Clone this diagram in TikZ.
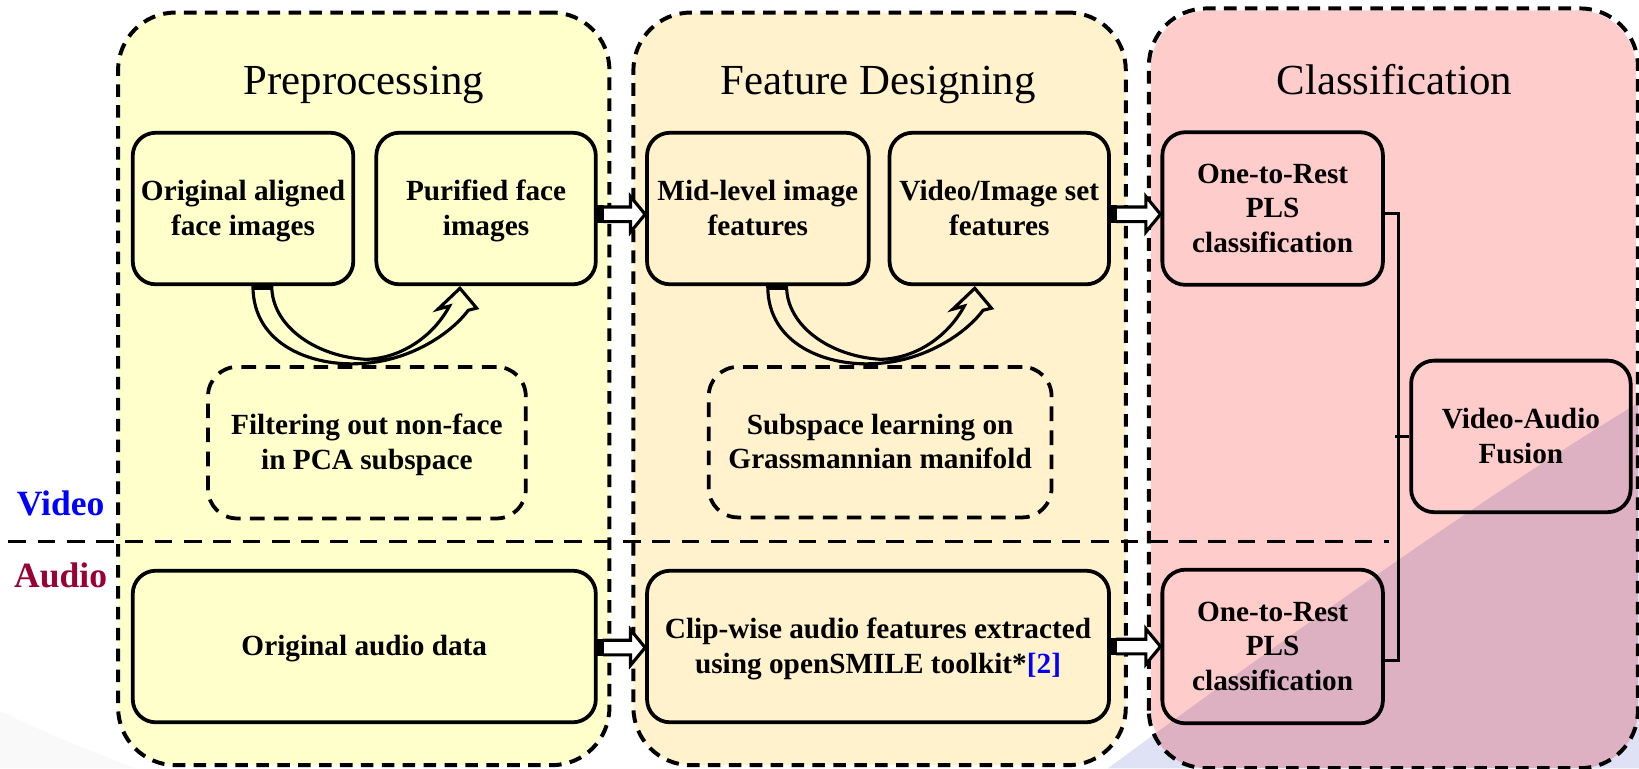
\documentclass[tikz,border=0pt]{standalone}
\usepackage{fontspec}
\setmainfont{Liberation Serif}
\usetikzlibrary{calc}
\definecolor{pyel}{RGB}{255,255,204}
\definecolor{porg}{RGB}{255,242,204}
\definecolor{ppink}{RGB}{255,204,204}
\definecolor{swblue}{RGB}{222,226,244}
\definecolor{swpurp}{RGB}{221,177,194}
\definecolor{audiored}{RGB}{153,0,51}
\newcommand\hstrut{\rule{0pt}{25pt}}
\newcommand\dstrut{\rule[-7pt]{0pt}{7pt}}
\newcommand\hollowarrow[2]{%
  \draw[fill=white, line width=3pt, line join=miter] let \p1=(#1), \p2=(#2) in
    (\x1+5pt,\y1+7pt) -- (\x2-14pt,\y1+7pt) -- (\x2-14pt,\y1+17pt) -- (\x2,\y1)
    -- (\x2-14pt,\y1-17pt) -- (\x2-14pt,\y1-7pt) -- (\x1+5pt,\y1-7pt);
  \fill[black] let \p1=(#1) in (\x1-1pt,\y1-8.5pt) rectangle (\x1+6pt,\y1+8.5pt);
}
\newcommand\curvedarrow[2]{%
  \begin{scope}[shift={(#1)}]
    \draw[fill=#2, line width=3pt, line join=miter]
      (0,0) .. controls (0,57) and (58,77) .. (103,74)
      .. controls (148,72) and (188,47) .. (206,23) -- (214,21) -- (198,2) -- (177,22) -- (188,19)
      .. controls (173,47) and (143,69) .. (108,70)
      .. controls (58,67) and (18,37) .. (18,0) -- cycle;
    \fill[black] (0,-1) rectangle (18,4);
  \end{scope}}
\begin{document}
\begin{tikzpicture}[x=1pt,y=-1pt,
  panel/.style={draw, line width=3.8pt, dash pattern=on 12pt off 8pt, rounded corners=55pt, inner sep=0pt},
  paneltitle/.style={anchor=base, font=\fontsize{41}{41}\selectfont},
  box/.style={draw, line width=3.6pt, rounded corners=22pt, align=center, inner sep=0pt,
    font=\bfseries\fontsize{28}{33}\selectfont},
  dbox/.style={box, dash pattern=on 14pt off 9pt, rounded corners=28pt},
  conn/.style={line width=3pt},
  sepline/.style={line width=3.6pt, dash pattern=on 17pt off 11pt},
  sidelabel/.style={anchor=base, font=\bfseries\fontsize{34}{34}\selectfont}]
\useasboundingbox (0,0) rectangle (1568,735);
\fill[white] (0,0) rectangle (1568,735);
% background swooshes
\fill[swblue] (1568,385) .. controls (1420,475) and (1250,595) .. (1060,735) -- (1568,735) -- cycle;
\fill[black!2.5] (0,680) .. controls (40,700) and (90,720) .. (130,735) -- (0,735) -- cycle;
% panels
\node[panel, fill=pyel, minimum width=470pt, minimum height=720pt] (ppre) at (348,372) {};
\node[panel, fill=porg, minimum width=471pt, minimum height=720pt] (pfeat) at (841.5,372) {};
\node[panel, draw=none, fill=ppink, minimum width=464pt, minimum height=723pt] (pcls) at (1333,371.5) {};
\begin{scope}
  \clip[rounded corners=55pt] (pcls.south west) rectangle (pcls.north east);
  \fill[swpurp] (1568,385) .. controls (1420,475) and (1250,595) .. (1060,735) -- (1568,735) -- cycle;
\end{scope}
\draw[line width=3.8pt, dash pattern=on 12pt off 8pt, rounded corners=55pt] (pcls.south west) rectangle (pcls.north east);
% titles
\node[paneltitle] (tpre) at (348,90) {Preprocessing};
\node[paneltitle] (tfeat) at (840,90) {Feature Designing};
\node[paneltitle] (tcls) at (1334,90) {Classification};
% boxes
\node[box, minimum width=211pt, minimum height=145pt] (orig) at (232.5,199.5) {\hstrut Original aligned\\face images\dstrut};
\node[box, minimum width=210pt, minimum height=145pt] (puri) at (465,199.5) {\hstrut Purified face\\images\dstrut};
\node[box, minimum width=212pt, minimum height=145pt] (mid) at (725,199.5) {\hstrut Mid-level image\\features\dstrut};
\node[box, minimum width=210pt, minimum height=145pt] (vis) at (956,199.5) {\hstrut Video/Image set\\features\dstrut};
\node[dbox, minimum width=304pt, minimum height=145pt] (filt) at (351,423.5) {\hstrut Filtering out non-face\\in PCA subspace\dstrut};
\node[dbox, minimum width=328pt, minimum height=144pt] (subs) at (842,423) {\hstrut Subspace learning on\\Grassmannian manifold\dstrut};
\node[box, minimum width=443pt, minimum height=145pt] (oaud) at (348.5,618.5) {\hstrut Original audio data\dstrut};
\node[box, minimum width=442pt, minimum height=145pt] (clip) at (840,618.5) {\hstrut Clip-wise audio features extracted\\using openSMILE toolkit*{\color{blue}[2]}\dstrut};
\node[box, minimum width=211pt, minimum height=146pt] (otr1) at (1217.5,199.5) {\hstrut One-to-Rest\\PLS\\classification\dstrut};
\node[box, minimum width=211pt, minimum height=147pt] (otr2) at (1217.5,618.5) {\hstrut One-to-Rest\\PLS\\classification\dstrut};
\node[box, minimum width=210pt, minimum height=145pt] (fus) at (1455,417.5) {\hstrut Video-Audio\\Fusion\dstrut};
% curved arrows
\curvedarrow{[xshift=9.5pt]orig.south}{pyel}
\curvedarrow{[xshift=9.5pt]mid.south}{porg}
% straight block arrows
\hollowarrow{[yshift=-5.5pt]puri.east}{[yshift=-5.5pt]mid.west}
\hollowarrow{[yshift=-5.5pt]vis.east}{[yshift=-5.5pt]otr1.west}
\hollowarrow{[yshift=-1pt]oaud.east}{[yshift=-1pt]clip.west}
\hollowarrow{clip.east}{otr2.west}
% fusion bracket
\draw[conn] ([yshift=-5pt]otr1.east) -- ++(13,0) |- ([yshift=-13.5pt]otr2.east);
\draw[conn] (fus.west) -- ++(-14,0);
% separator
\coordinate (sepL) at (8,518);
\coordinate (sepR) at (1329,518);
\draw[sepline] (sepL) -- (sepR);
% side labels
\node[sidelabel, text=blue] (lvid) at (58,493) {Video};
\node[sidelabel, text=audiored] (laud) at (58,562) {Audio};
\end{tikzpicture}
\end{document}
